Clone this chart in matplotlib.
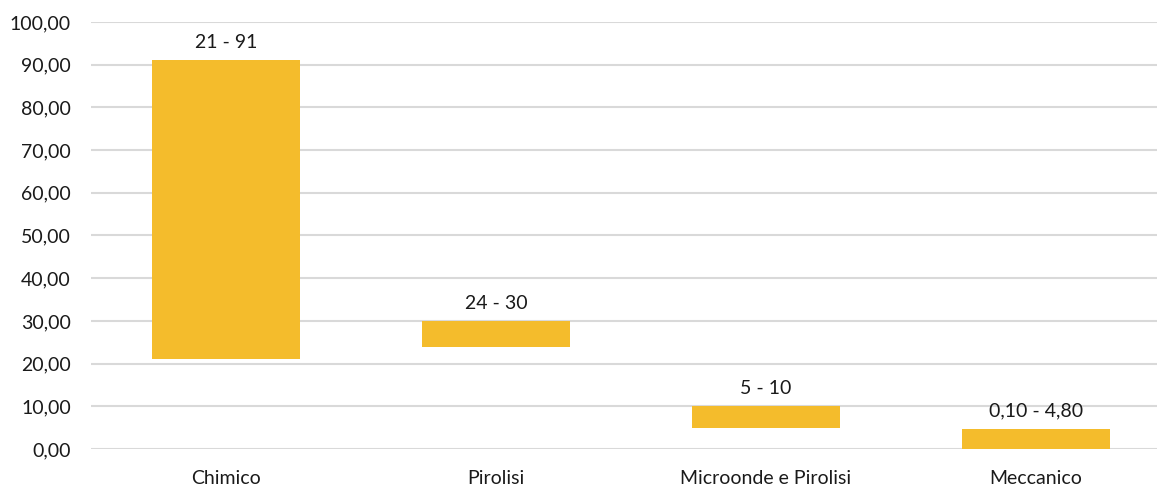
import numpy as np
import matplotlib.pyplot as plt

plt.rcParams['font.family'] = ['Lato', 'DejaVu Sans']

categories = ["Chimico", "Pirolisi", "Microonde e Pirolisi", "Meccanico"]
low = [21, 24, 5, 0.10]
high = [91, 30, 10, 4.80]
labels = ["21 - 91", "24 - 30", "5 - 10", "0,10 - 4,80"]

fig = plt.figure(figsize=(11.57, 4.86), dpi=100)
# plot area runs a little past the right edge of the image, like the original
ax = fig.add_axes([91 / 1157, 37 / 486, 1080 / 1157, 427 / 486])

x = np.arange(len(categories))
heights = [h - l for l, h in zip(low, high)]
ax.bar(x, heights, bottom=low, width=0.55, color='#F4BC2C', zorder=3)

for xi, h, lab in zip(x, high, labels):
    ax.text(xi, h + 2.2, lab, ha='center', va='bottom', fontsize=14, color='#1a1a1a')

ax.set_xlim(-0.5, len(categories) - 0.5)
ax.set_ylim(0, 100)
ax.set_yticks(np.arange(0, 101, 10))
ax.set_yticklabels([f"{v:.2f}".replace('.', ',') for v in np.arange(0, 101, 10)])
ax.set_xticks(x)
ax.set_xticklabels(categories)
ax.tick_params(axis='both', length=0, labelsize=14, colors='#1a1a1a')
ax.tick_params(axis='x', pad=15)
ax.tick_params(axis='y', pad=14.5)
ax.grid(axis='y', color='#D9D9D9', linewidth=1.5, zorder=0)
ax.set_axisbelow(True)
for s in ax.spines.values():
    s.set_visible(False)

fig.savefig("out.png", dpi=100)
